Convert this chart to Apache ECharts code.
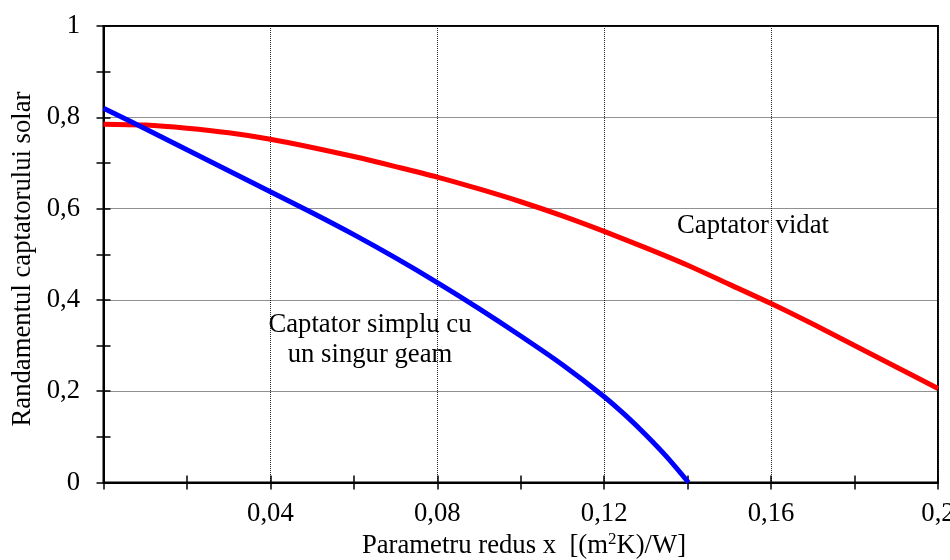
<!DOCTYPE html>
<html><head><meta charset="utf-8">
<script src="https://cdn.jsdelivr.net/npm/echarts@6/dist/echarts.min.js"></script>
<style>html,body{margin:0;padding:0;background:#fff}#c{width:950px;height:560px}</style>
</head><body><div id="c"></div>
<script>
const redX = [0, 0.01, 0.02, 0.03, 0.04, 0.05, 0.06, 0.07, 0.08, 0.09, 0.1, 0.11, 0.12, 0.13, 0.14, 0.15, 0.16, 0.17, 0.18, 0.19, 0.2];
const redY = [0.785, 0.783, 0.776, 0.766, 0.752, 0.734, 0.714, 0.692, 0.669, 0.643, 0.615, 0.584, 0.550, 0.514, 0.476, 0.434, 0.392, 0.347, 0.300, 0.253, 0.206];
const blueX = [0, 0.01, 0.02, 0.03, 0.04, 0.05, 0.06, 0.07, 0.08, 0.09, 0.1, 0.11, 0.12, 0.125, 0.13, 0.135, 0.1402];
const blueY = [0.820, 0.775, 0.729, 0.683, 0.637, 0.591, 0.543, 0.492, 0.438, 0.381, 0.321, 0.258, 0.188, 0.148, 0.104, 0.056, 0];
const xTicks = [0.04, 0.08, 0.12, 0.16, 0.2];
const yTicks = [0, 0.2, 0.4, 0.6, 0.8, 1];
const redName = 'Captator vidat';
const blueName = ['Captator simplu cu', 'un singur geam'];
const yTitle = 'Randamentul captatorului solar';
const xTitle = 'Parametru redus x  [(m{sup|2}K)/W]';

const font = '"Liberation Serif", "Times New Roman", serif';
const fs = 26.7;
const chart = echarts.init(document.getElementById('c'), null, {renderer: 'canvas'});
const fmt = v => String(+v.toFixed(2)).replace('.', ',');
const near = (arr, v) => arr.some(t => Math.abs(t - v) < 1e-9);
const baseAxis = {
  min: 0,
  axisLine: {show: true, onZero: false, lineStyle: {color: '#000', width: 2}},
  axisTick: {show: true, length: 7, lineStyle: {color: '#000', width: 1.5}},
  minorTick: {show: true, splitNumber: 2, length: 7, lineStyle: {color: '#000', width: 1.5}},
  splitLine: {show: true, lineStyle: {color: '#222', type: [1, 1], width: 1}},
};
const txt = {fontFamily: font, fontSize: fs, color: '#000'};
chart.setOption({
  animation: false,
  grid: {left: 103.5, right: 12, top: 26, bottom: 77.5, containLabel: false, outerBoundsMode: 'none',
    show: true, borderColor: '#000', borderWidth: 2},
  xAxis: [
    Object.assign({}, baseAxis, {
      type: 'value', max: 0.2, interval: 0.04,
      axisLabel: Object.assign({}, txt, {margin: 18, hideOverlap: false,
        formatter: v => near(xTicks, v) ? fmt(v) : ''})
    }),
    {type: 'value', min: 0, max: 0.2, interval: 0.04, position: 'bottom',
      axisLine: {show: false}, axisLabel: {show: false}, splitLine: {show: false},
      axisTick: {show: true, inside: true, length: 7, lineStyle: {color: '#000', width: 1.5}},
      minorTick: {show: true, splitNumber: 2, length: 7, lineStyle: {color: '#000', width: 1.5}}}
  ],
  yAxis: [
    Object.assign({}, baseAxis, {
      type: 'value', max: 1, interval: 0.2,
      axisLabel: Object.assign({}, txt, {margin: 23.5, padding: [0, 0, 8, 0], hideOverlap: false,
        formatter: v => near(yTicks, v) ? fmt(v) : ''})
    }),
    {type: 'value', min: 0, max: 1, interval: 0.2, position: 'left',
      axisLine: {show: false}, axisLabel: {show: false}, splitLine: {show: false},
      axisTick: {show: true, inside: true, length: 7, lineStyle: {color: '#000', width: 1.5}},
      minorTick: {show: true, splitNumber: 2, length: 7, lineStyle: {color: '#000', width: 1.5}}}
  ],
  series: [
    {type: 'line', name: redName, data: redX.map((x, i) => [x, redY[i]]), smooth: 0.3,
      showSymbol: false, lineStyle: {color: '#ff0000', width: 5}, clip: true, z: 3},
    {type: 'line', name: blueName.join(' '), data: blueX.map((x, i) => [x, blueY[i]]), smooth: 0.3,
      showSymbol: false, lineStyle: {color: '#0000ff', width: 5}, clip: true, z: 4}
  ],
  graphic: [
    {type: 'text', x: 753, y: 226, style: {text: redName, font: fs + 'px ' + font, fill: '#000', align: 'center', verticalAlign: 'middle'}},
    {type: 'text', x: 370, y: 325, style: {text: blueName[0], font: fs + 'px ' + font, fill: '#000', align: 'center', verticalAlign: 'middle'}},
    {type: 'text', x: 370, y: 355, style: {text: blueName[1], font: fs + 'px ' + font, fill: '#000', align: 'center', verticalAlign: 'middle'}},
    {type: 'text', x: 23, y: 259, rotation: Math.PI / 2,
      style: {text: yTitle, font: fs + 'px ' + font, fill: '#000', align: 'center', verticalAlign: 'middle'}},
    {type: 'text', x: 524, y: 546,
      style: {text: xTitle, font: fs + 'px ' + font, fill: '#000', align: 'center', verticalAlign: 'middle',
        rich: {sup: {fontFamily: font, fontSize: 17, fill: '#000', verticalAlign: 'top', padding: [0, 0, 12, 0]}}}}
  ]
});
</script></body></html>
